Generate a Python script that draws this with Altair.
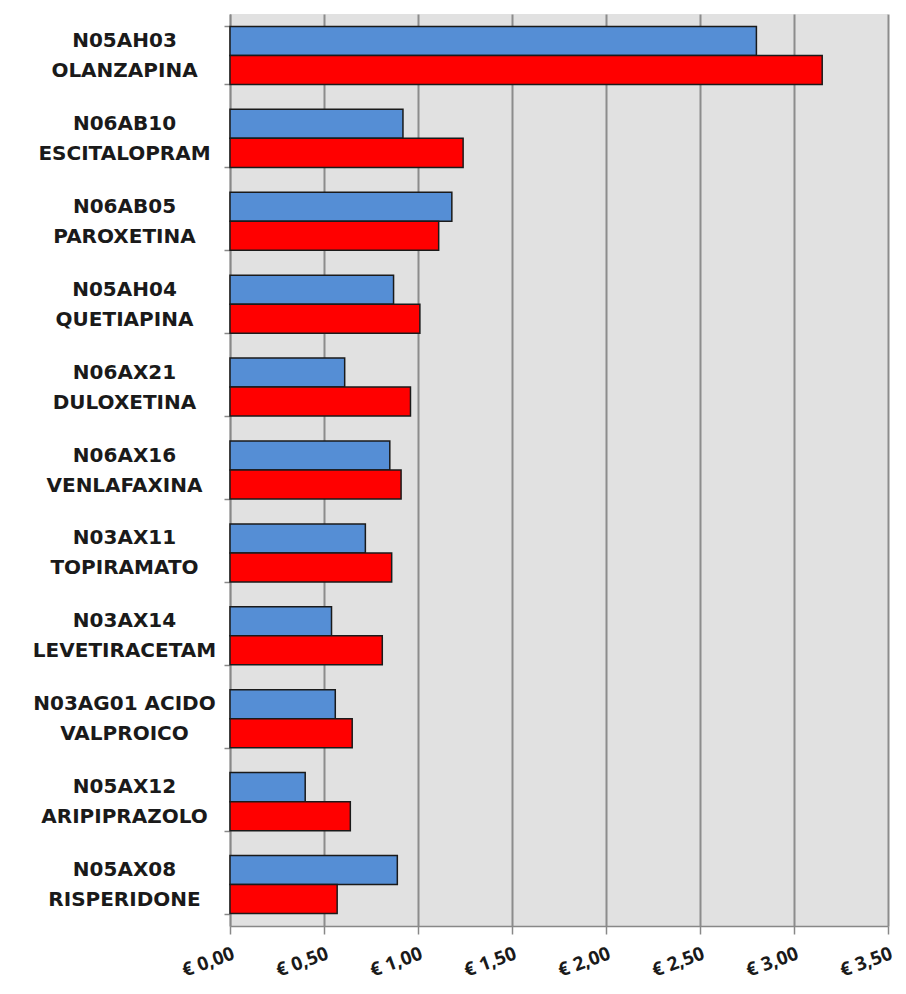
import altair as alt
import pandas as pd

labels = [
    "N05AH03|OLANZAPINA",
    "N06AB10|ESCITALOPRAM",
    "N06AB05|PAROXETINA",
    "N05AH04|QUETIAPINA",
    "N06AX21|DULOXETINA",
    "N06AX16|VENLAFAXINA",
    "N03AX11|TOPIRAMATO",
    "N03AX14|LEVETIRACETAM",
    "N03AG01 ACIDO|VALPROICO",
    "N05AX12|ARIPIPRAZOLO",
    "N05AX08|RISPERIDONE",
]
series_names = ["Serie 1", "Serie 2"]
blue_vals = [2.80, 0.92, 1.18, 0.87, 0.61, 0.85, 0.72, 0.54, 0.56, 0.40, 0.89]
red_vals = [3.15, 1.24, 1.11, 1.01, 0.96, 0.91, 0.86, 0.81, 0.65, 0.64, 0.57]
x_ticks = [0, 0.5, 1.0, 1.5, 2.0, 2.5, 3.0, 3.5]

rows = []
for lab, b, r in zip(labels, blue_vals, red_vals):
    rows.append({"farmaco": lab, "serie": series_names[0], "valore": b})
    rows.append({"farmaco": lab, "serie": series_names[1], "valore": r})
df = pd.DataFrame(rows)

chart = alt.Chart(df).mark_bar(stroke="#1a1a1a", strokeWidth=1.5).encode(
    y=alt.Y(
        "farmaco:N",
        sort=labels,
        scale=alt.Scale(paddingInner=0.3, paddingOuter=0.15),
        axis=alt.Axis(
            title=None,
            labelExpr="datum.value ? split(datum.value, '|') : ''",
            labelAlign="center",
            labelBaseline="middle",
            labelPadding=100,
            labelOffset=-15,
            labelFont="DejaVu Sans",
            labelFontWeight="bold",
            labelFontSize=20,
            labelColor="#1a1a1a",
            labelLineHeight=30,
            labelLimit=300,
            tickBand="extent",
            tickSize=6,
            tickColor="#888888",
            tickWidth=1.5,
            domainColor="#888888",
            domainWidth=1.5,
            grid=False,
        ),
    ),
    yOffset=alt.YOffset("serie:N", sort=series_names),
    x=alt.X(
        "valore:Q",
        scale=alt.Scale(domain=[0, 3.5], nice=False),
        axis=alt.Axis(
            title=None,
            values=x_ticks,
            labelExpr="'€ ' + replace(format(datum.value, '.2f'), '.', ',')",
            labelAngle=340,
            labelAlign="right",
            labelBaseline="top",
            labelPadding=10,
            labelFont="Open Sans",
            labelFontWeight="bold",
            labelFontSize=19,
            labelColor="#1a1a1a",
            tickSize=8,
            tickColor="#888888",
            tickWidth=1.5,
            domainColor="#888888",
            domainWidth=1.5,
            grid=True,
            gridColor="#8c8c8c",
            gridWidth=2,
        ),
    ),
    color=alt.Color(
        "serie:N",
        scale=alt.Scale(domain=series_names, range=["#558ed5", "#ff0000"]),
        legend=None,
    ),
).properties(
    width=658,
    height=912,
    autosize=alt.AutoSizeParams(type="none"),
    padding={"left": 222, "top": 6, "right": 10, "bottom": 60},
).configure_view(
    fill="#e1e1e1",
    stroke=None,
)

chart.save("out.html", embed_options={"renderer": "svg", "actions": False})
